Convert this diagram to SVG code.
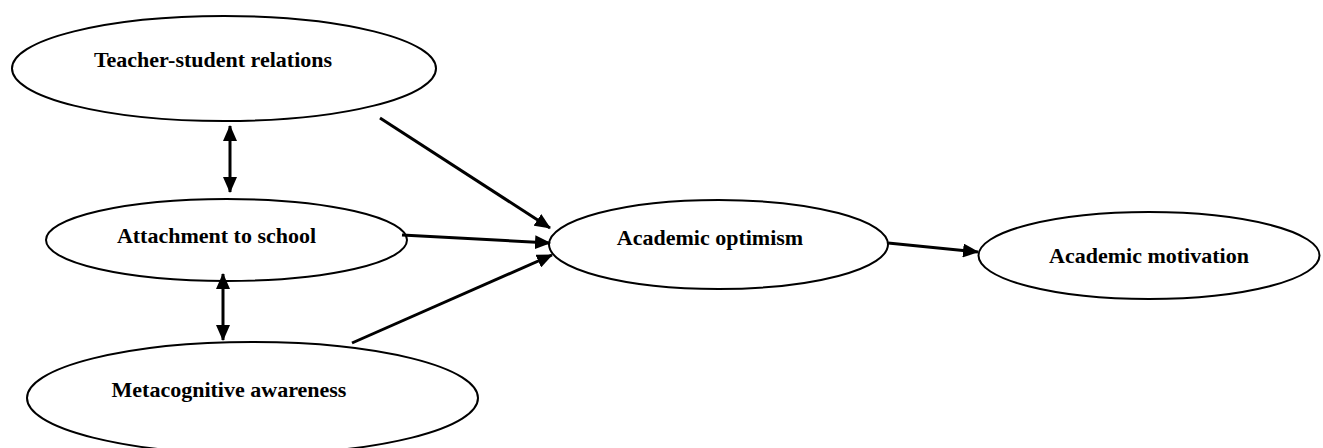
<svg xmlns="http://www.w3.org/2000/svg" width="1323" height="448" viewBox="0 0 1323 448">
<style>
.node ellipse{fill:#fff;stroke:#000;stroke-width:2}
.node text{font-family:"Liberation Serif","Times New Roman",serif;font-weight:bold;font-size:22px;fill:#000;text-anchor:middle}
.conn line{stroke:#000;stroke-width:3}
</style>
<defs>
<marker id="ah" markerUnits="userSpaceOnUse" markerWidth="16" markerHeight="14" viewBox="0 0 16 14" refX="15" refY="7" orient="auto-start-reverse">
<path d="M0,0 L16,7 L0,14 Z" fill="#000"/>
</marker>
</defs>
<rect width="1323" height="448" fill="#fff"/>
<g id="teacher" class="node"><ellipse cx="224" cy="68.5" rx="212" ry="52.5"/><text x="213" y="67">Teacher-student relations</text></g>
<g id="attachment" class="node"><ellipse cx="226.5" cy="240" rx="180.5" ry="41"/><text x="216.5" y="243">Attachment to school</text></g>
<g id="metacognitive" class="node"><ellipse cx="252.5" cy="398" rx="225.5" ry="56"/><text x="229" y="397">Metacognitive awareness</text></g>
<g id="optimism" class="node"><ellipse cx="718.5" cy="244.5" rx="169.5" ry="44.5"/><text x="710" y="245">Academic optimism</text></g>
<g id="motivation" class="node"><ellipse cx="1149" cy="255.5" rx="170.5" ry="43.5"/><text x="1149" y="263">Academic motivation</text></g>
<g id="connectors" class="conn">
<line x1="230" y1="126" x2="230" y2="192" marker-start="url(#ah)" marker-end="url(#ah)"/>
<line x1="223" y1="274" x2="223" y2="340" marker-start="url(#ah)" marker-end="url(#ah)"/>
<line x1="380" y1="118" x2="550" y2="228" marker-end="url(#ah)"/>
<line x1="402" y1="235" x2="550" y2="243" marker-end="url(#ah)"/>
<line x1="352" y1="343" x2="552" y2="255" marker-end="url(#ah)"/>
<line x1="888" y1="243" x2="978" y2="252" marker-end="url(#ah)"/>
</g>
</svg>
